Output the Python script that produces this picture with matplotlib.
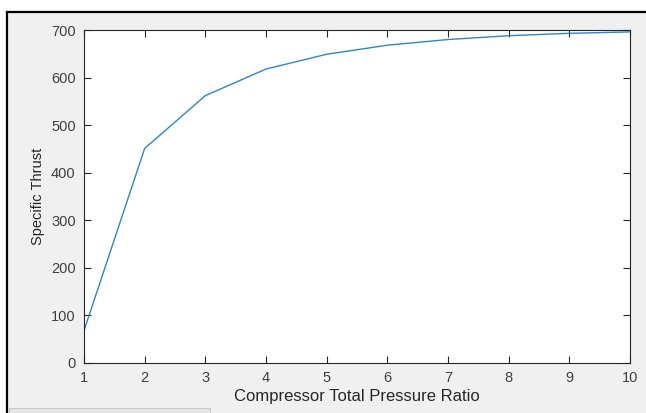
import matplotlib.pyplot as plt
from matplotlib.patches import Rectangle
from matplotlib.lines import Line2D

# compressor total pressure ratio vs specific thrust
pressure_ratio = [1, 2, 3, 4, 5, 6, 7, 8, 9, 10]
specific_thrust = [68, 451, 562, 618, 649, 668, 680, 688, 693, 696]

x_ticks = [1, 2, 3, 4, 5, 6, 7, 8, 9, 10]
y_ticks = [0, 100, 200, 300, 400, 500, 600, 700]

plt.rcParams['font.family'] = ['Liberation Sans', 'DejaVu Sans']

fig = plt.figure(figsize=(6.46, 4.13), dpi=100)
fig.patch.set_facecolor('white')

# grey MATLAB window area with black frame (screenshot look)
fig.add_artist(Rectangle((7 / 646, 0), 1, 1 - 12 / 413, transform=fig.transFigure,
                         facecolor='#f0f0f0', edgecolor='none', zorder=0))
fig.add_artist(Line2D([7 / 646, 1], [1 - 12 / 413, 1 - 12 / 413], transform=fig.transFigure,
                      color='black', lw=1.6))
fig.add_artist(Line2D([7 / 646, 7 / 646], [0, 1 - 12 / 413], transform=fig.transFigure,
                      color='black', lw=1.6))
fig.add_artist(Rectangle((9 / 646, 0), 201 / 646, 5 / 413, transform=fig.transFigure,
                         facecolor='#e6e6e6', edgecolor='#c8c8c8', lw=0.8))

ax = fig.add_axes([84 / 646, 50 / 413, 546 / 646, 333 / 413])
ax.set_facecolor('white')
ax.plot(pressure_ratio, specific_thrust, color='#2f86c8', lw=1.0)

ax.set_xlim(1, 10)
ax.set_ylim(0, 700)
ax.set_xticks(x_ticks)
ax.set_yticks(y_ticks)
ax.tick_params(direction='in', length=5, width=0.8, top=True, right=True,
               labelsize=10.5, colors='#262626', labelcolor='#404040')
ax.tick_params(axis='x', pad=6)
ax.tick_params(axis='y', pad=6)
for s in ax.spines.values():
    s.set_color('#262626')
    s.set_linewidth(0.8)

ax.set_xlabel('Compressor Total Pressure Ratio', fontsize=12, color='#262626', labelpad=3)
ax.set_ylabel('Specific Thrust', fontsize=10.5, color='#262626', labelpad=4)

fig.savefig('out.png', dpi=100, facecolor=fig.get_facecolor())
